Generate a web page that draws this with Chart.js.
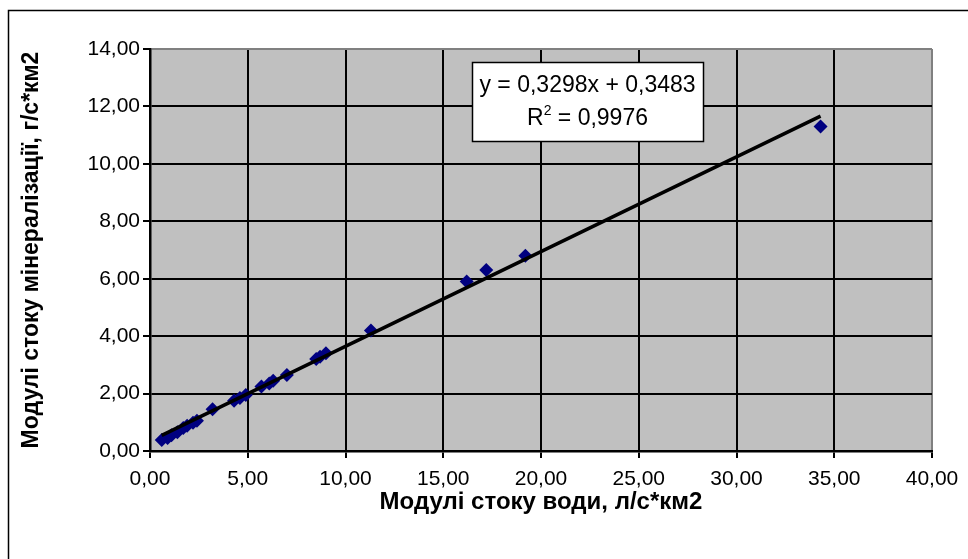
<!DOCTYPE html>
<html>
<head>
<meta charset="utf-8">
<script src="https://cdn.jsdelivr.net/npm/chart.js@4"></script>
<style>
  html, body { margin: 0; padding: 0; background: #fff; }
</style>
</head>
<body>
<canvas id="chart" width="968" height="559"></canvas>
<script>
// Модулі стоку води, л/с*км2
const waterModule = [0.6, 0.9, 1.1, 1.4, 1.7, 1.9, 2.2, 2.4, 3.2, 4.3, 4.6, 4.9, 5.7, 6.1, 6.3, 7.0, 8.5, 8.7, 9.0, 11.3, 16.2, 17.2, 19.2, 34.3];
// Модулі стоку мінералізації, г/с*км2
const mineralModule = [0.38, 0.45, 0.55, 0.65, 0.80, 0.88, 0.98, 1.05, 1.45, 1.75, 1.85, 1.95, 2.25, 2.35, 2.45, 2.65, 3.20, 3.28, 3.40, 4.20, 5.90, 6.30, 6.80, 11.30];

// linear trend shown on the chart
const slope = 0.3298;
const intercept = 0.3483;
const rSquared = 0.9976;

const xMin = 0, xMax = 40, xStep = 5;
const yMin = 0, yMax = 14, yStep = 2;

const fmt = v => v.toFixed(2).replace('.', ',');
const fmt4 = v => v.toFixed(4).replace('.', ',');
const FONT = '"Liberation Sans", Arial, sans-serif';

const points = waterModule.map((x, i) => ({ x: x, y: mineralModule[i] }));
const xFirst = Math.min(...waterModule);
const xLast = Math.max(...waterModule);
const trend = [
    { x: xFirst, y: slope * xFirst + intercept },
    { x: xLast, y: slope * xLast + intercept }
];

// gray plot area, outer frame and the equation box
const decor = {
    id: 'decor',
    beforeDraw(chart) {
        const ctx = chart.ctx;
        const a = chart.chartArea;
        ctx.save();
        ctx.fillStyle = '#fff';
        ctx.fillRect(0, 0, chart.width, chart.height);
        ctx.strokeStyle = '#000';
        ctx.lineWidth = 1.5;
        ctx.strokeRect(8.5, 10.5, chart.width, chart.height);
        ctx.fillStyle = '#c0c0c0';
        ctx.fillRect(a.left, a.top, a.right - a.left, a.bottom - a.top);
        ctx.restore();
    },
    afterDatasetsDraw(chart) {
        const ctx = chart.ctx;
        const bx = 472, by = 62, bw = 231, bh = 79;
        ctx.save();
        ctx.fillStyle = '#fff';
        ctx.fillRect(bx, by, bw, bh);
        ctx.strokeStyle = '#000';
        ctx.lineWidth = 1.5;
        ctx.strokeRect(bx + 0.5, by + 0.5, bw, bh);
        ctx.fillStyle = '#000';
        ctx.textBaseline = 'middle';
        ctx.font = '23px ' + FONT;
        const cx = bx + bw / 2;
        ctx.textAlign = 'center';
        ctx.fillText('y = ' + fmt4(slope) + 'x + ' + fmt4(intercept), cx, by + 24);
        // second line: R with superscript 2
        const rest = ' = ' + fmt4(rSquared);
        ctx.font = '23px ' + FONT;
        const wR = ctx.measureText('R').width;
        const wRest = ctx.measureText(rest).width;
        ctx.font = '14px ' + FONT;
        const w2 = ctx.measureText('2').width;
        let x = cx - (wR + w2 + wRest) / 2;
        ctx.textAlign = 'left';
        ctx.font = '23px ' + FONT;
        ctx.fillText('R', x, by + 57);
        x += wR;
        ctx.font = '14px ' + FONT;
        ctx.fillText('2', x, by + 49);
        x += w2;
        ctx.font = '23px ' + FONT;
        ctx.fillText(rest, x, by + 57);
        ctx.restore();
    }
};

new Chart(document.getElementById('chart'), {
    type: 'scatter',
    data: {
        datasets: [
            {
                type: 'line',
                label: 'trend',
                data: trend,
                borderColor: '#000',
                borderWidth: 3.5,
                pointRadius: 0,
                fill: false
            },
            {
                label: 'data',
                data: points,
                backgroundColor: '#000080',
                borderColor: '#000080',
                borderWidth: 0,
                pointStyle: 'rectRot',
                pointRadius: 7,
                pointHoverRadius: 7
            }
        ]
    },
    options: {
        responsive: false,
        animation: false,
        events: [],
        layout: { padding: { top: 49, right: 36, left: 0, bottom: 0 } },
        plugins: {
            legend: { display: false },
            tooltip: { enabled: false }
        },
        scales: {
            x: {
                type: 'linear',
                min: xMin,
                max: xMax,
                afterFit: s => { s.height = 108; },
                border: { color: '#000', width: 2.5 },
                grid: {
                    color: c => (c.tick && c.tick.value === xMax ? '#808080' : '#000'),
                    lineWidth: 2,
                    tickLength: 7,
                    tickColor: '#000'
                },
                ticks: {
                    stepSize: xStep,
                    padding: 9,
                    color: '#000',
                    font: { family: FONT, size: 21 },
                    callback: v => fmt(v)
                },
                title: {
                    display: true,
                    text: 'Модулі стоку води, л/с*км2',
                    color: '#000',
                    font: { family: FONT, size: 24, weight: 'bold' },
                    padding: { top: 0, bottom: 42 }
                }
            },
            y: {
                type: 'linear',
                min: yMin,
                max: yMax,
                afterFit: s => { s.width = 150; },
                border: { color: '#000', width: 2.5 },
                grid: {
                    color: c => (c.tick && c.tick.value === yMax ? '#808080' : '#000'),
                    lineWidth: 2,
                    tickLength: 7,
                    tickColor: '#000'
                },
                ticks: {
                    stepSize: yStep,
                    padding: 3,
                    color: '#000',
                    font: { family: FONT, size: 21 },
                    callback: v => fmt(v)
                },
                title: {
                    display: true,
                    text: 'Модулі стоку мінералізації, г/с*км2',
                    color: '#000',
                    font: { family: FONT, size: 23, weight: 'bold' },
                    padding: { top: 18, bottom: 0 }
                }
            }
        }
    },
    plugins: [decor]
});
</script>
</body>
</html>
